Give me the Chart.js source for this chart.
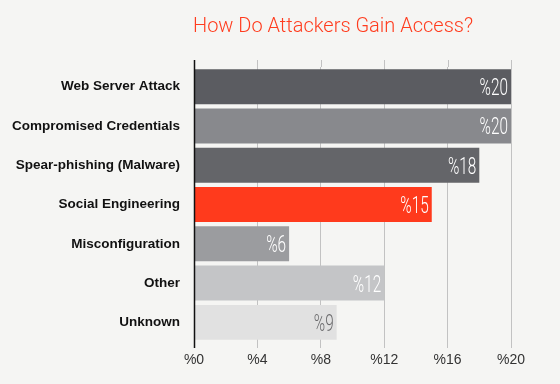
<!DOCTYPE html>
<html lang="en">
<head>
    <meta charset="UTF-8">
    <title>How Do Attackers Gain Access?</title>
    <script src="https://cdn.jsdelivr.net/npm/chart.js"></script>
    <style>
        html, body { margin: 0; padding: 0; background: #f5f5f3; }
        #wrap { width: 560px; height: 384px; position: relative; }
    </style>
</head>
<body>
    <div id="wrap"><canvas id="chart"></canvas></div>
</body>

<script>
// ---------------- data ----------------
const title = 'How Do Attackers Gain Access?';
const categories = [
    'Web Server Attack',
    'Compromised Credentials',
    'Spear-phishing (Malware)',
    'Social Engineering',
    'Misconfiguration',
    'Other',
    'Unknown'
];
const values = [20, 20, 18, 15, 6, 12, 9];
const barColors = ['#5b5c61', '#88898d', '#646569', '#ff3a1c', '#9b9c9f', '#c4c5c7', '#e1e1e1'];
const labelColors = ['#ffffff', '#ffffff', '#ffffff', '#ffffff', '#ffffff', '#ffffff', '#6b6b6d'];
const xTicks = [0, 4, 8, 12, 16, 20];

// title, extra grid and value labels
const decor = {
    id: 'decor',
    beforeDraw(chart) {
        const ctx = chart.ctx;
        ctx.save();
        ctx.fillStyle = '#f5f5f3';
        ctx.fillRect(0, 0, chart.width, chart.height);
        ctx.restore();
    },
    beforeDatasetsDraw(chart) {
        const ctx = chart.ctx;
        const x = chart.scales.x;
        const area = chart.chartArea;
        ctx.save();
        // grid lines reach above the plot a bit
        ctx.strokeStyle = '#c2c2c2';
        ctx.lineWidth = 1;
        xTicks.forEach(v => {
            if (v === 0) return;
            const px = Math.round(x.getPixelForValue(v)) + 0.5;
            ctx.beginPath();
            ctx.moveTo(px, 60);
            ctx.lineTo(px, area.top);
            ctx.stroke();
        });
        ctx.restore();
    },
    afterDatasetsDraw(chart) {
        const ctx = chart.ctx;
        const x = chart.scales.x;
        const meta = chart.getDatasetMeta(0);
        ctx.save();
        // value axis line
        const x0 = Math.round(x.getPixelForValue(0)) + 0.5;
        ctx.strokeStyle = '#111111';
        ctx.lineWidth = 1.5;
        ctx.beginPath();
        ctx.moveTo(x0, 60);
        ctx.lineTo(x0, 348);
        ctx.stroke();

        // value labels, condensed
        ctx.font = '300 24px Roboto';
        ctx.textAlign = 'right';
        ctx.textBaseline = 'alphabetic';
        meta.data.forEach((bar, i) => {
            ctx.save();
            ctx.translate(bar.x - 3, bar.y + 8.5);
            ctx.scale(0.64, 1);
            ctx.fillStyle = labelColors[i];
            ctx.fillText('%' + values[i], 0, 0);
            ctx.restore();
        });

        // title
        ctx.font = '300 20px Roboto';
        ctx.fillStyle = '#ff3c1e';
        ctx.textAlign = 'center';
        ctx.textBaseline = 'middle';
        ctx.fillText(title, 333, 27);
        ctx.restore();
    }
};

const ctx = document.getElementById('chart');
new Chart(ctx, {
    type: 'bar',
    data: {
        labels: categories,
        datasets: [{
            data: values,
            backgroundColor: barColors,
            borderWidth: 0,
            barPercentage: 0.89,
            categoryPercentage: 1.0
        }]
    },
    options: {
        indexAxis: 'y',
        responsive: true,
        maintainAspectRatio: false,
        animation: false,
        layout: { padding: { top: 67, right: 49, bottom: 0, left: 0 } },
        plugins: {
            legend: { display: false },
            tooltip: { enabled: false }
        },
        scales: {
            x: {
                min: 0,
                max: 20,
                afterBuildTicks(scale) {
                    scale.ticks = xTicks.map(v => ({ value: v }));
                },
                afterFit(scale) { scale.height = 42; },
                border: { display: false },
                grid: {
                    color: (c) => c.tick && c.tick.value === 0 ? 'rgba(0,0,0,0)' : '#c2c2c2',
                    lineWidth: 1,
                    tickLength: 6,
                    drawTicks: true
                },
                ticks: {
                    padding: 4,
                    color: '#333333',
                    font: { family: 'Liberation Sans', size: 14 },
                    callback: (v) => '%' + v
                }
            },
            y: {
                afterFit(scale) { scale.width = 194; },
                border: { display: false },
                grid: { display: false, tickLength: 0 },
                ticks: {
                    padding: 14,
                    color: '#111111',
                    font: { family: 'Liberation Sans', size: 13.5, weight: 'bold' }
                }
            }
        }
    },
    plugins: [decor]
});
</script>
</html>
